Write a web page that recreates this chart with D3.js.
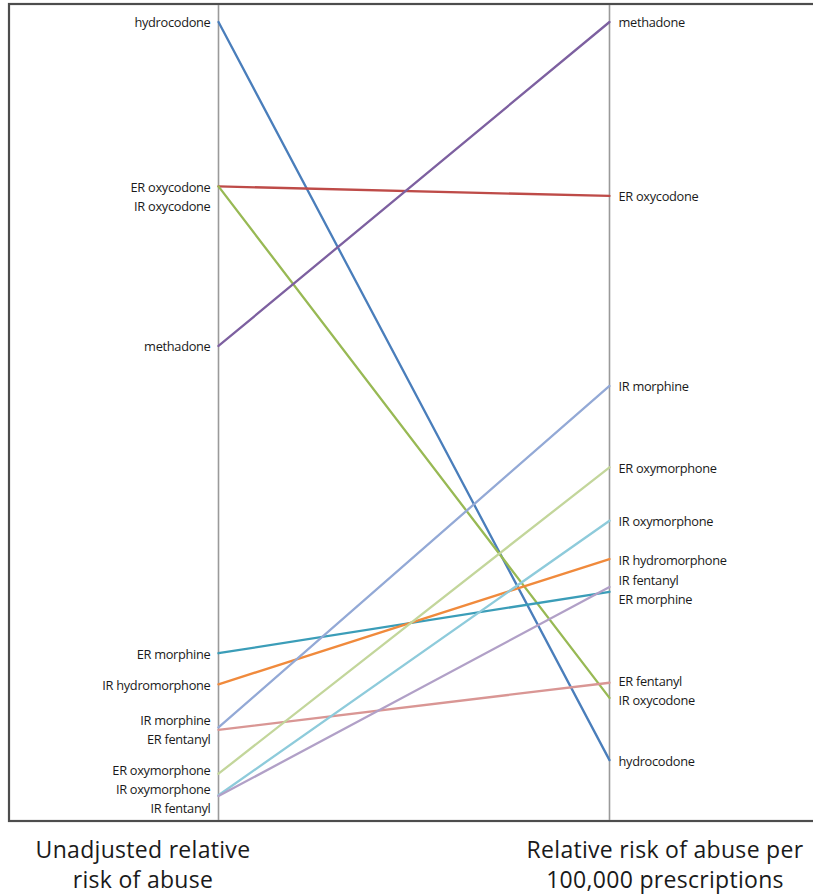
<!DOCTYPE html>
<html>
<head>
<meta charset="utf-8">
<script src="https://cdn.jsdelivr.net/npm/d3@7/dist/d3.min.js"></script>
<style>
  html, body { margin: 0; padding: 0; background: #fff; }
  svg { display: block; }
</style>
</head>
<body>
<svg id="chart" width="813" height="894"></svg>
<script>
// ---- data ----
const drugs = ["hydrocodone", "ER oxycodone", "IR oxycodone", "methadone", "ER morphine",
  "IR hydromorphone", "IR morphine", "ER fentanyl", "ER oxymorphone", "IR oxymorphone", "IR fentanyl"];
const unadjustedRisk = [10.00, 7.94, 7.94, 5.94, 2.09, 1.70, 1.16, 1.13, 0.58, 0.31, 0.30];
const riskPer100k    = [0.75, 7.82, 1.53, 10.00, 2.86, 3.27, 5.44, 1.72, 4.42, 3.75, 2.92];
const axisTitles = [["Unadjusted relative", "risk of abuse"], ["Relative risk of abuse per", "100,000 prescriptions"]];
const colors = ["#4A7EBB", "#BE4B48", "#98B954", "#7D60A0", "#3B9DB8",
  "#F08A3C", "#93A9D6", "#D99694", "#C3D69B", "#8ECBDB", "#B1A0C7"];

// ---- layout ----
const svg = d3.select("#chart");
const frame = { left: 9, top: 4, right: 840, bottom: 821 };
const xL = 218.5, xR = 609.5;
const y = d3.scaleLinear().domain([0, 10]).range([820, 22]);

const rows = drugs.map((d, i) => ({ name: d, a: unadjustedRisk[i], b: riskPer100k[i], color: colors[i], i }));

// frame
svg.append("rect")
  .attr("x", frame.left).attr("y", frame.top)
  .attr("width", frame.right - frame.left).attr("height", frame.bottom - frame.top)
  .attr("fill", "none").attr("stroke", "#4d4d4d").attr("stroke-width", 2.2);

// axes (vertical lines)
[xL, xR].forEach(x => {
  svg.append("line")
    .attr("x1", x).attr("x2", x)
    .attr("y1", frame.top + 1).attr("y2", frame.bottom - 1)
    .attr("stroke", "#9a9a9a").attr("stroke-width", 1.6);
});

// slope lines
svg.append("g").selectAll("line").data(rows).join("line")
  .attr("x1", xL).attr("y1", d => y(d.a))
  .attr("x2", xR).attr("y2", d => y(d.b))
  .attr("stroke", d => d.color)
  .attr("stroke-width", 2.3)
  .attr("stroke-linecap", "round");

// label placement with simple collision relaxation (exact ties: lower label moves down)
function place(values, gap) {
  const items = values.map((v, i) => ({ i, y0: y(v), y: y(v) }));
  items.sort((p, q) => p.y0 - q.y0 || p.i - q.i);
  for (let it = 0; it < 300; it++) {
    let moved = false;
    for (let k = 1; k < items.length; k++) {
      const d = items[k].y - items[k - 1].y;
      if (d < gap - 1e-6) {
        if (items[k].y0 === items[k - 1].y0) {
          items[k].y = items[k - 1].y + gap;
        } else {
          const push = (gap - d) / 2;
          items[k - 1].y -= push; items[k].y += push;
        }
        moved = true;
      }
    }
    if (!moved) break;
  }
  const out = [];
  items.forEach(o => out[o.i] = o.y);
  return out;
}
const leftY = place(unadjustedRisk, 19);
const rightY = place(riskPer100k, 19);

const labelFont = "'Open Sans', 'Liberation Sans', sans-serif";
svg.append("g").selectAll("text").data(rows).join("text")
  .attr("x", xL - 8).attr("y", d => leftY[d.i] + 1)
  .attr("dy", "0.35em")
  .attr("text-anchor", "end")
  .attr("font-family", labelFont).attr("font-size", 12.8)
  .attr("letter-spacing", -0.3)
  .attr("fill", "#1a1a1a")
  .text(d => d.name);

svg.append("g").selectAll("text").data(rows).join("text")
  .attr("x", xR + 9).attr("y", d => rightY[d.i] + 1)
  .attr("dy", "0.35em")
  .attr("text-anchor", "start")
  .attr("font-family", labelFont).attr("font-size", 12.8)
  .attr("letter-spacing", -0.3)
  .attr("fill", "#1a1a1a")
  .text(d => d.name);

// axis titles
const titleX = [143, 665];
axisTitles.forEach((lines, j) => {
  lines.forEach((t, k) => {
    svg.append("text")
      .attr("x", titleX[j]).attr("y", 858 + k * 30)
      .attr("text-anchor", "middle")
      .attr("font-family", labelFont).attr("font-size", 23)
      .attr("letter-spacing", 0.3)
      .attr("fill", "#1a1a1a")
      .text(t);
  });
});
</script>
</body>
</html>
